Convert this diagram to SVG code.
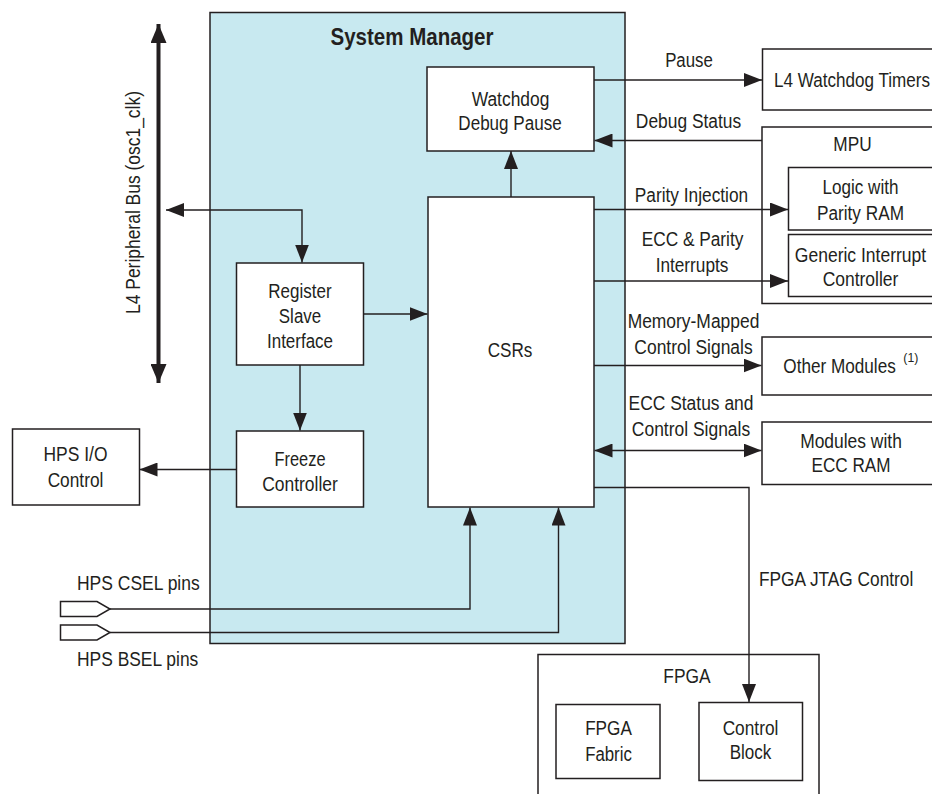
<svg xmlns="http://www.w3.org/2000/svg" width="932" height="794" viewBox="0 0 932 794">
<defs>
<style>
text{font-family:"Liberation Sans",Arial,sans-serif;font-size:19.5px;fill:#231f20;}
.c{text-anchor:middle;}
.b{font-weight:bold;font-size:24px;}
.box{fill:#fff;stroke:#231f20;stroke-width:1.5;}
.grp{fill:none;stroke:#231f20;stroke-width:1.5;}
.ln{fill:none;stroke:#231f20;stroke-width:1.4;}
.sup{font-size:12px;}
</style>
<marker id="ah" markerUnits="userSpaceOnUse" markerWidth="18" markerHeight="14" refX="18" refY="7" orient="auto-start-reverse">
<path d="M0,0 L18,7 L0,14 z" fill="#231f20"/>
</marker>
<marker id="bh" markerUnits="userSpaceOnUse" markerWidth="19" markerHeight="16" refX="19" refY="8" orient="auto-start-reverse">
<path d="M0,0 L19,8 L0,16 z" fill="#231f20"/>
</marker>
</defs>
<rect width="932" height="794" fill="#fff"/>

<g id="system-manager">
<rect x="210" y="12.5" width="415" height="631" fill="#c8e9f0" stroke="#231f20" stroke-width="1.5"/>
<text class="c b" x="412" y="45" textLength="163" lengthAdjust="spacingAndGlyphs">System Manager</text>
</g>

<g id="watchdog-debug-pause">
<rect class="box" x="427" y="67" width="167" height="84"/>
<text class="c" x="510.5" y="106" textLength="77.7" lengthAdjust="spacingAndGlyphs">Watchdog</text>
<text class="c" x="510" y="130" textLength="103.3" lengthAdjust="spacingAndGlyphs">Debug Pause</text>
</g>

<g id="csrs">
<rect class="box" x="428" y="197" width="166" height="310"/>
<text class="c" x="510" y="357" textLength="44.7" lengthAdjust="spacingAndGlyphs">CSRs</text>
</g>

<g id="register-slave-interface">
<rect class="box" x="236.5" y="263" width="127" height="102"/>
<text class="c" x="300" y="298" textLength="63.3" lengthAdjust="spacingAndGlyphs">Register</text>
<text class="c" x="300" y="322.5" textLength="42.3" lengthAdjust="spacingAndGlyphs">Slave</text>
<text class="c" x="300" y="348" textLength="66" lengthAdjust="spacingAndGlyphs">Interface</text>
</g>

<g id="freeze-controller">
<rect class="box" x="236.5" y="431" width="127" height="76"/>
<text class="c" x="300" y="466" textLength="51" lengthAdjust="spacingAndGlyphs">Freeze</text>
<text class="c" x="300" y="491" textLength="75.7" lengthAdjust="spacingAndGlyphs">Controller</text>
</g>

<g id="hps-io-control">
<rect class="box" x="12.5" y="429" width="127" height="76"/>
<text class="c" x="75.5" y="460.5" textLength="64" lengthAdjust="spacingAndGlyphs">HPS I/O</text>
<text class="c" x="75.5" y="486.5" textLength="55.7" lengthAdjust="spacingAndGlyphs">Control</text>
</g>

<g id="l4-bus">
<text class="c" x="0" y="0" transform="translate(140,202.5) rotate(-90)" textLength="223" lengthAdjust="spacingAndGlyphs">L4 Peripheral Bus (osc1_clk)</text>
</g>

<g id="hps-csel-pins">
<polygon class="box" points="60.5,601.5 97,601.5 110,609 97,616.5 60.5,616.5"/>
<text x="77" y="590" textLength="122.7" lengthAdjust="spacingAndGlyphs">HPS CSEL pins</text>
</g>

<g id="hps-bsel-pins">
<polygon class="box" points="60.5,625 97,625 110,632.5 97,640 60.5,640"/>
<text x="77" y="666" textLength="121.3" lengthAdjust="spacingAndGlyphs">HPS BSEL pins</text>
</g>

<g id="l4-watchdog-timers">
<rect class="box" x="762.5" y="49" width="180" height="61"/>
<text class="c" x="0" y="0" transform="translate(852,87) scale(0.876,1)">L4 Watchdog Timers</text>
</g>

<g id="mpu">
<rect class="grp" x="762" y="127" width="180" height="176.5"/>
<text class="c" x="852.5" y="150.5" textLength="38.3" lengthAdjust="spacingAndGlyphs">MPU</text>
</g>

<g id="logic-parity-ram">
<rect class="box" x="788.5" y="167.5" width="160" height="62.5"/>
<text class="c" x="860.5" y="194" textLength="76" lengthAdjust="spacingAndGlyphs">Logic with</text>
<text class="c" x="860.5" y="220" textLength="87" lengthAdjust="spacingAndGlyphs">Parity RAM</text>
</g>

<g id="generic-interrupt-controller">
<rect class="box" x="788.5" y="234.5" width="160" height="62"/>
<text class="c" x="0" y="0" transform="translate(860.5,261.5) scale(0.898,1)">Generic Interrupt</text>
<text class="c" x="860.5" y="286" textLength="75.7" lengthAdjust="spacingAndGlyphs">Controller</text>
</g>

<g id="other-modules">
<rect class="box" x="762" y="337" width="180" height="58"/>
<text x="0" y="0" transform="translate(783.3,372.5) scale(0.88,1)">Other Modules</text>
<text class="sup" x="903.3" y="361.5" textLength="15" lengthAdjust="spacingAndGlyphs">(1)</text>
</g>

<g id="modules-ecc-ram">
<rect class="box" x="762" y="422" width="180" height="62.5"/>
<text class="c" x="851" y="447.5" textLength="101.7" lengthAdjust="spacingAndGlyphs">Modules with</text>
<text class="c" x="851" y="471.5" textLength="79" lengthAdjust="spacingAndGlyphs">ECC RAM</text>
</g>

<g id="fpga">
<rect class="grp" x="538" y="654.5" width="281" height="160"/>
<text class="c" x="687" y="682.5" textLength="47.3" lengthAdjust="spacingAndGlyphs">FPGA</text>
</g>

<g id="fpga-fabric">
<rect class="box" x="556" y="704.5" width="104" height="74"/>
<text class="c" x="608.5" y="735" textLength="46.7" lengthAdjust="spacingAndGlyphs">FPGA</text>
<text class="c" x="608.5" y="760.5" textLength="46.7" lengthAdjust="spacingAndGlyphs">Fabric</text>
</g>

<g id="control-block">
<rect class="box" x="699" y="702.5" width="103.5" height="78"/>
<text class="c" x="750.5" y="734.5" textLength="55.7" lengthAdjust="spacingAndGlyphs">Control</text>
<text class="c" x="750.5" y="759" textLength="41.7" lengthAdjust="spacingAndGlyphs">Block</text>
</g>

<g id="connectors">
<line x1="158.5" y1="24" x2="158.5" y2="383" stroke="#231f20" stroke-width="4" marker-start="url(#bh)" marker-end="url(#bh)"/>
<path class="ln" d="M166,210 H302 V262.5" marker-start="url(#ah)" marker-end="url(#ah)"/>
<path class="ln" d="M363.5,314 H427.5" marker-end="url(#ah)"/>
<path class="ln" d="M300,365 V430.5" marker-end="url(#ah)"/>
<path class="ln" d="M236.5,469.5 H139.5" marker-end="url(#ah)"/>
<path class="ln" d="M511,197 V151" marker-end="url(#ah)"/>
<path class="ln" d="M594,80 H762" marker-end="url(#ah)"/>
<path class="ln" d="M762,140.5 H594.5" marker-end="url(#ah)"/>
<path class="ln" d="M594,209.5 H788" marker-end="url(#ah)"/>
<path class="ln" d="M594,281 H788" marker-end="url(#ah)"/>
<path class="ln" d="M594,365.5 H761.5" marker-end="url(#ah)"/>
<path class="ln" d="M594.5,450.5 H761.5" marker-start="url(#ah)" marker-end="url(#ah)"/>
<path class="ln" d="M594,487.5 H749 V702" marker-end="url(#ah)"/>
<path class="ln" d="M110,609 H470 V507.5" marker-end="url(#ah)"/>
<path class="ln" d="M110,632.5 H558.5 V507.5" marker-end="url(#ah)"/>
<text class="c" x="689" y="66.5" textLength="47.7" lengthAdjust="spacingAndGlyphs">Pause</text>
<text class="c" x="688.5" y="127.5" textLength="105.3" lengthAdjust="spacingAndGlyphs">Debug Status</text>
<text class="c" x="691.5" y="202" textLength="113.3" lengthAdjust="spacingAndGlyphs">Parity Injection</text>
<text class="c" x="692.5" y="246" textLength="101.7" lengthAdjust="spacingAndGlyphs">ECC &amp; Parity</text>
<text class="c" x="692" y="271.5" textLength="72.7" lengthAdjust="spacingAndGlyphs">Interrupts</text>
<text class="c" x="693.5" y="328" textLength="131.7" lengthAdjust="spacingAndGlyphs">Memory-Mapped</text>
<text class="c" x="693.5" y="354" textLength="118.3" lengthAdjust="spacingAndGlyphs">Control Signals</text>
<text class="c" x="691" y="410" textLength="125" lengthAdjust="spacingAndGlyphs">ECC Status and</text>
<text class="c" x="691" y="435.5" textLength="118.3" lengthAdjust="spacingAndGlyphs">Control Signals</text>
<text x="759" y="585.5" textLength="154.3" lengthAdjust="spacingAndGlyphs">FPGA JTAG Control</text>
</g>
</svg>
